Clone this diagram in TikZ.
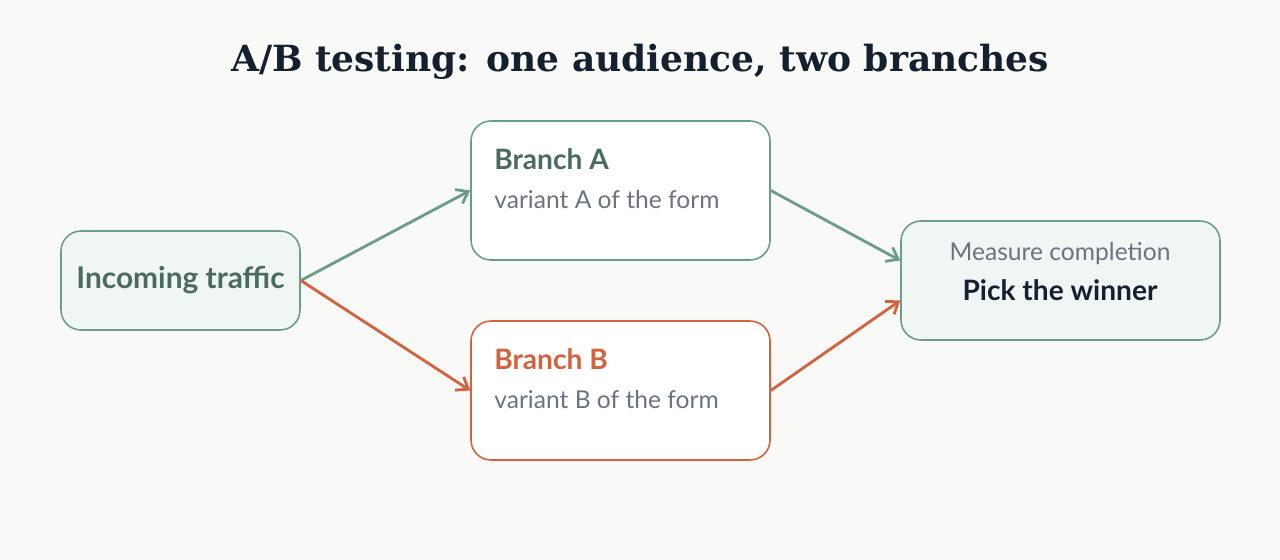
\documentclass[tikz,border=0pt]{standalone}
\usepackage{fontspec}
\setmainfont{Lato}
\newfontfamily\titlefont{DejaVu Serif}
\usetikzlibrary{arrows.meta}
\definecolor{bg}{HTML}{F9F9F7}
\definecolor{grn}{HTML}{6A9E86}
\definecolor{grnd}{HTML}{4B6B5D}
\definecolor{grnf}{HTML}{F0F6F3}
\definecolor{org}{HTML}{D4623F}
\definecolor{gry}{HTML}{6B7280}
\definecolor{ink}{HTML}{14202E}
\begin{document}
\begin{tikzpicture}[x=0.02cm,y=-0.02cm,
  box/.style={draw, rounded corners=0.4cm, line width=0.9pt, inner sep=0pt},
  arr/.style={line width=1.6pt, -{Straight Barb[length=6pt,width=9pt]}}]
\fill[bg] (0,0) rectangle (1280,560);
\useasboundingbox (0,0) rectangle (1280,560);
\node[font=\titlefont\bfseries\fontsize{20.5}{25}\selectfont, text=ink] (title) at (640,62) {A/B testing: one audience, two branches};
\node[box, draw=grn, fill=grnf, minimum width=239*0.02cm, minimum height=99*0.02cm, font=\bfseries\fontsize{17}{20}\selectfont, text=grnd] (in) at (180.5,280.5) {Incoming traffic};
\node[box, draw=grn, fill=white, minimum width=299*0.02cm, minimum height=139*0.02cm] (a) at (620.5,190.5) {};
\node[anchor=west, inner sep=0pt, font=\bfseries\fontsize{16}{20}\selectfont, text=grnd] (at) at (494,159) {Branch A};
\node[anchor=west, inner sep=0pt, font=\fontsize{14}{18}\selectfont, text=gry] (as) at (494,200) {variant A of the form};
\node[box, draw=org, fill=white, minimum width=299*0.02cm, minimum height=139*0.02cm] (b) at (620.5,390.5) {};
\node[anchor=west, inner sep=0pt, font=\bfseries\fontsize{16}{20}\selectfont, text=org] (bt) at (494,359) {Branch B};
\node[anchor=west, inner sep=0pt, font=\fontsize{14}{18}\selectfont, text=gry] (bs) at (494,400) {variant B of the form};
\node[box, draw=grn, fill=grnf, minimum width=319*0.02cm, minimum height=119*0.02cm] (m) at (1060.5,280.5) {};
\node[font=\fontsize{14}{18}\selectfont, text=gry] (m1) at (1060,254) {Measure completion};
\node[font=\bfseries\fontsize{16}{20}\selectfont, text=ink] (m2) at (1060,290) {Pick the winner};
\draw[arr, grn] (in.east) -- (a.west);
\draw[arr, org] (in.east) -- (b.west);
\draw[arr, grn] (a.east) -- ([yshift=20*0.02cm]m.west);
\draw[arr, org] (b.east) -- ([yshift=-20*0.02cm]m.west);
\end{tikzpicture}
\end{document}
